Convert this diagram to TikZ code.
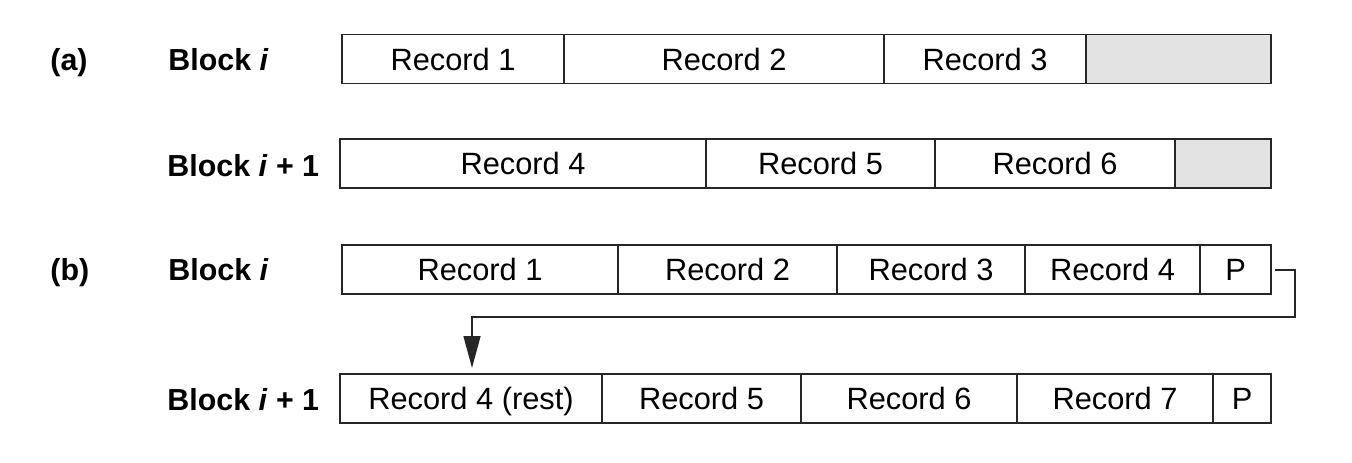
\documentclass[tikz,border=0pt]{standalone}
\usepackage{fontspec}
\setmainfont{Liberation Sans}
\usetikzlibrary{arrows.meta}
\begin{document}
\begin{tikzpicture}[x=0.5pt,y=-0.5pt,
  cell/.style={draw=black!85, line width=0.7pt, minimum height=24.5pt, inner sep=0pt, text height=11pt, text depth=0pt, font=\fontsize{15.4}{17}\selectfont, anchor=center},
  free/.style={cell, fill=black!11},
  lab/.style={font=\fontsize{15.2}{17}\selectfont\bfseries, anchor=base west, inner sep=0pt},
  arr/.style={draw=black!85, line width=0.7pt, -{Triangle[length=16pt,width=8.5pt]}, shorten >=3pt}]
\useasboundingbox (0,0) rectangle (1352,462);
% labels
\node[lab] (la) at (50,70) {(a)};
\node[lab] (lb) at (50,280) {(b)};
\node[lab] (l1) at (168,70) {Block \textit{i}};
\node[lab] (l2) at (167,176) {Block \textit{i} + 1};
\node[lab] (l3) at (168,280) {Block \textit{i}};
\node[lab] (l4) at (167,410) {Block \textit{i} + 1};
% row a1
\node[cell, minimum width=111pt] (a1c1) at (453,59) {Record 1};
\node[cell, minimum width=160pt] (a1c2) at (724,59) {Record 2};
\node[cell, minimum width=101pt] (a1c3) at (985,59) {Record 3};
\node[free, minimum width=92.5pt] (a1f) at (1178.5,59) {};
% row a2
\node[cell, minimum width=183pt] (a2c1) at (523,163.5) {Record 4};
\node[cell, minimum width=114.5pt] (a2c2) at (820.5,163.5) {Record 5};
\node[cell, minimum width=120pt] (a2c3) at (1055,163.5) {Record 6};
\node[free, minimum width=48pt] (a2f) at (1223,163.5) {};
% row b1
\node[cell, minimum width=138pt] (b1c1) at (480,269.5) {Record 1};
\node[cell, minimum width=109.5pt] (b1c2) at (727.5,269.5) {Record 2};
\node[cell, minimum width=94pt] (b1c3) at (931,269.5) {Record 3};
\node[cell, minimum width=87.5pt] (b1c4) at (1112.5,269.5) {Record 4};
\node[cell, minimum width=35.5pt] (b1p) at (1235.5,269.5) {P};
% row b2
\node[cell, minimum width=131pt] (b2c1) at (471,398.5) {Record 4 (rest)};
\node[cell, minimum width=99.5pt] (b2c2) at (701.5,398.5) {Record 5};
\node[cell, minimum width=108pt] (b2c3) at (909,398.5) {Record 6};
\node[cell, minimum width=98pt] (b2c4) at (1115,398.5) {Record 7};
\node[cell, minimum width=29pt] (b2p) at (1242,398.5) {P};
% pointer
\coordinate (ps) at (1275,270);
\coordinate (pc) at (1295,317);
\coordinate (pt) at (472,374);
\draw[arr] (ps) -| (pc) -| (pt);
\end{tikzpicture}
\end{document}
